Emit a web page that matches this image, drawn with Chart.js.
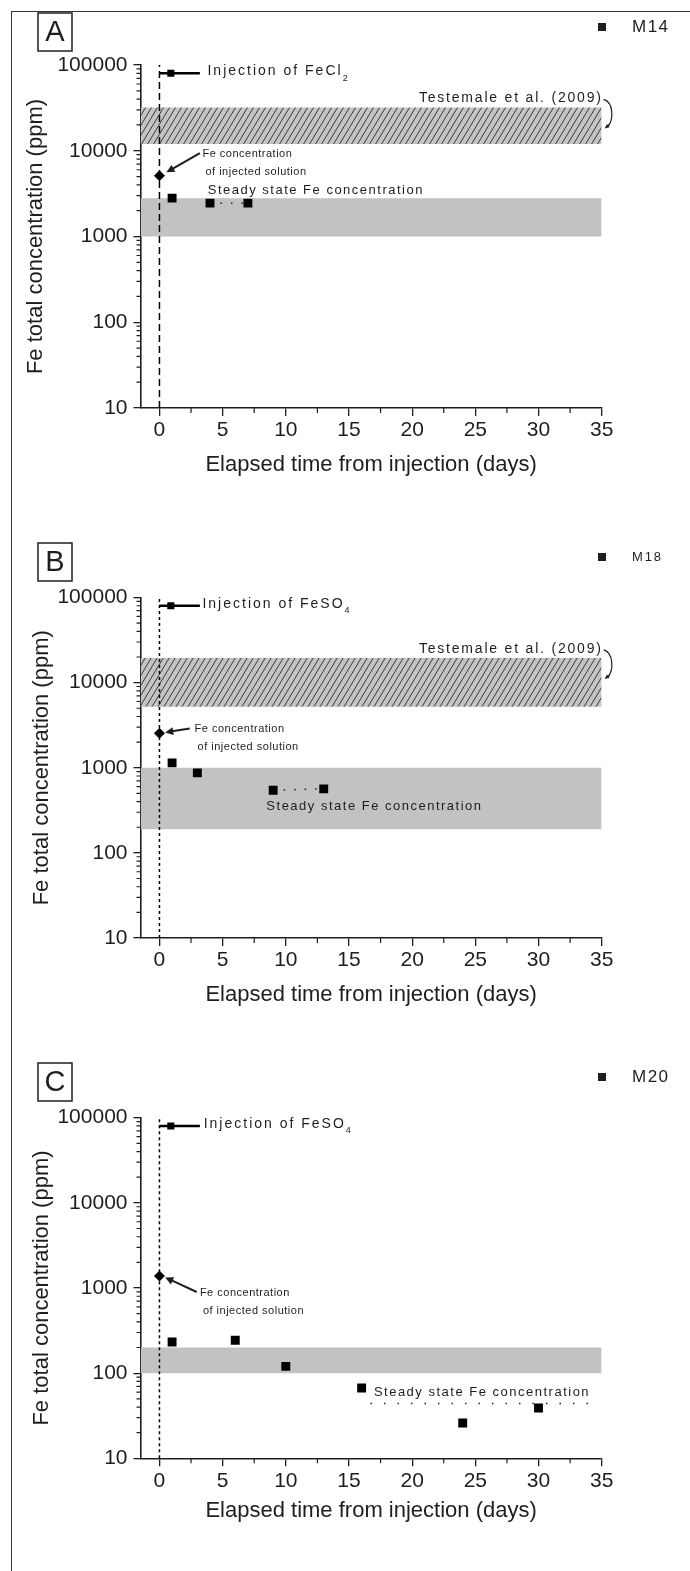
<!DOCTYPE html>
<html>
<head>
<meta charset="utf-8">
<script src="https://cdn.jsdelivr.net/npm/chart.js@4"></script>
<style>
  body { margin: 0; background: #fff; width: 690px; height: 1571px; position: relative; overflow: hidden; }
  .frame { position: absolute; left: 11px; top: 11px; width: 720px; height: 1620px;
           border-left: 1.5px solid #333; border-top: 1.5px solid #333; }
  canvas { position: absolute; left: 0; }
</style>
</head>
<body>
<div class="frame"></div>
<canvas id="chartA" width="690" height="530" style="top:0"></canvas>
<canvas id="chartB" width="690" height="520" style="top:530px"></canvas>
<canvas id="chartC" width="690" height="521" style="top:1050px"></canvas>
<script>
const FONT = "'Liberation Sans', Arial, Helvetica, sans-serif";
const INK = '#1e1e1e';

// axes
const xTicks = [0, 5, 10, 15, 20, 25, 30, 35];
const xMinorTicks = [2.5, 7.5, 12.5, 17.5, 22.5, 27.5, 32.5];
const yTicks = [10, 100, 1000, 10000, 100000];
const xRange = [-1.5, 35];
const yRange = [10, 100000];

// injection marker (ppm level, arrow from day 0 to text)
const injectionLevel = 80000;
const injectionArrowDays = [0, 3.2];
const injectionMarkDay = 0.9;

// A - M14, FeCl2
const daysM14 = [1, 4, 7];
const feM14 = [2800, 2450, 2450];
const injectedM14 = 5100;
const steadyM14 = [1000, 2800];
const testemaleM14 = [12000, 32000];

// B - M18, FeSO4
const daysM18 = [1, 3, 9, 13];
const feM18 = [1140, 870, 545, 565];
const injectedM18 = 2550;
const steadyM18 = [190, 1000];
const testemaleM18 = [5200, 19500];

// C - M20, FeSO4
const daysM20 = [1, 6, 10, 16, 24, 30];
const feM20 = [232, 243, 120, 67, 26, 39];
const injectedM20 = 1380;
const steadyM20 = [100, 200];
const steadyLineM20 = 44;
const steadyLineDaysM20 = [16.7, 34.2];

const panels = [
  {
    id: 'chartA', letter: 'A', label: 'M14', salt: 'FeCl', sub: '2',
    days: daysM14, fe: feM14, injected: injectedM14, steady: steadyM14, testemale: testemaleM14,
    connect: [1, 2], zeroDash: [7, 4],
    pad: { top: 65, bottom: 52, left: 23 }, xAxisH: 70,
    injText: 3.8, feText: [3.4, 9150], feArrow: [[3.2, 9400], [0.55, 5600]],
    steadyText: [3.82, 3440], legendSize: 17,
  },
  {
    id: 'chartB', letter: 'B', label: 'M18', salt: 'FeSO', sub: '4',
    days: daysM18, fe: feM18, injected: injectedM18, steady: steadyM18, testemale: testemaleM18,
    connect: [2, 3], zeroDash: [3, 3],
    pad: { top: 67.5, bottom: 42, left: 29 }, xAxisH: 70,
    injText: 3.4, feText: [2.78, 2820], feArrow: [[2.4, 2890], [0.45, 2600]],
    steadyText: [8.46, 348], legendSize: 13,
  },
  {
    id: 'chartC', letter: 'C', label: 'M20', salt: 'FeSO', sub: '4',
    days: daysM20, fe: feM20, injected: injectedM20, steady: steadyM20, testemale: null,
    steadyLine: steadyLineM20, zeroDash: [3, 3],
    pad: { top: 67.7, bottom: 46.7, left: 29 }, xAxisH: 66,
    injText: 3.5, feText: [3.2, 884], feArrow: [[2.95, 897], [0.45, 1330]],
    steadyText: [16.97, 60], legendSize: 17,
  },
];

const makeHatch = () => {
  const c = document.createElement('canvas');
  c.width = 6; c.height = 10;
  const g = c.getContext('2d');
  g.fillStyle = '#c4c4c4';
  g.fillRect(0, 0, 6, 10);
  g.strokeStyle = '#3a3a3a';
  g.lineWidth = 1;
  for (const off of [-6, 0, 6]) {
    g.beginPath();
    g.moveTo(off, 10);
    g.lineTo(off + 6, 0);
    g.stroke();
  }
  return g.createPattern(c, 'repeat');
};

const band = (lo, hi, fill) => [
  { type: 'line', data: xRange.map(x => ({ x, y: hi })), fill: '+1', backgroundColor: fill,
    borderColor: 'rgba(0,0,0,0)', borderWidth: 0, pointRadius: 0, order: 5 },
  { type: 'line', data: xRange.map(x => ({ x, y: lo })), fill: false,
    borderColor: 'rgba(0,0,0,0)', borderWidth: 0, pointRadius: 0, order: 5 },
];

const text = (ctx, str, px, py, size, spacing, align = 'left') => {
  ctx.font = `${size}px ${FONT}`;
  ctx.letterSpacing = spacing + 'px';
  ctx.textAlign = align;
  ctx.textBaseline = 'middle';
  ctx.fillText(str, px, py);
  return ctx.measureText(str).width;
};

const arrow = (ctx, x1, y1, x2, y2, head) => {
  const a = Math.atan2(y2 - y1, x2 - x1);
  ctx.beginPath();
  ctx.moveTo(x1, y1);
  ctx.lineTo(x2 - Math.cos(a) * head * 0.6, y2 - Math.sin(a) * head * 0.6);
  ctx.stroke();
  ctx.beginPath();
  ctx.moveTo(x2, y2);
  ctx.lineTo(x2 - head * Math.cos(a - 0.45), y2 - head * Math.sin(a - 0.45));
  ctx.lineTo(x2 - head * Math.cos(a + 0.45), y2 - head * Math.sin(a + 0.45));
  ctx.closePath();
  ctx.fill();
};

const annotate = {
  id: 'annotate',
  afterDraw(chart, args, p) {
    const { ctx, chartArea: area, scales: { x, y } } = chart;
    ctx.save();
    ctx.strokeStyle = INK;
    ctx.fillStyle = INK;

    // minor ticks
    ctx.lineWidth = 1.2;
    ctx.beginPath();
    xMinorTicks.forEach(v => {
      const px = x.getPixelForValue(v);
      ctx.moveTo(px, area.bottom);
      ctx.lineTo(px, area.bottom + 5);
    });
    for (let d = 10; d < 100000; d *= 10) {
      for (let k = 2; k < 10; k++) {
        const py = y.getPixelForValue(d * k);
        ctx.moveTo(area.left, py);
        ctx.lineTo(area.left - 4, py);
      }
    }
    ctx.stroke();

    // panel letter
    ctx.lineWidth = 1.5;
    ctx.strokeRect(38, 13, 34, 38);
    text(ctx, p.letter, 55, 33, 29, 0, 'center');

    // legend
    const ds = chart.data.datasets[0];
    ctx.fillRect(598, 23, 8, 8);
    text(ctx, ds.label, 632, 27.5, p.legendSize, p.legendSize > 15 ? 1.5 : 1.8);

    // injection label
    const iy = y.getPixelForValue(injectionLevel) - 2;
    const w = text(ctx, 'Injection of ' + p.salt, x.getPixelForValue(p.injText), iy, 14, 2);
    text(ctx, p.sub, x.getPixelForValue(p.injText) + w, iy + 7, 9, 0);

    // Testemale band label + brace
    if (p.testemale) {
      const right = x.getPixelForValue(xRange[1]);
      const top = y.getPixelForValue(p.testemale[1]);
      text(ctx, 'Testemale et al. (2009)', right + 1, top - 9, 14, 1.8, 'right');
      ctx.lineWidth = 1.2;
      ctx.beginPath();
      ctx.moveTo(right + 2, top - 8);
      ctx.quadraticCurveTo(right + 9, top - 6, right + 10, top + 4);
      ctx.quadraticCurveTo(right + 11, top + 14, right + 6, top + 19);
      ctx.stroke();
      arrow(ctx, right + 8, top + 17, right + 3, top + 21, 5);
    }

    // injected solution label + arrow
    const fx = x.getPixelForValue(p.feText[0]);
    const fy = y.getPixelForValue(p.feText[1]);
    text(ctx, 'Fe concentration', fx, fy, 11, 0.5);
    text(ctx, 'of injected solution', fx + 3, fy + 18, 11, 0.5);
    ctx.lineWidth = 2;
    arrow(ctx,
      x.getPixelForValue(p.feArrow[0][0]), y.getPixelForValue(p.feArrow[0][1]),
      x.getPixelForValue(p.feArrow[1][0]), y.getPixelForValue(p.feArrow[1][1]), 9);

    // steady state label
    text(ctx, 'Steady state Fe concentration',
      x.getPixelForValue(p.steadyText[0]), y.getPixelForValue(p.steadyText[1]), 13, 1.5);

    ctx.restore();
  },
};

const hatch = makeHatch();

panels.forEach(p => {
  const datasets = [
    {
      type: 'scatter', label: p.label,
      data: p.days.map((d, i) => ({ x: d, y: p.fe[i] })),
      pointStyle: 'rect', pointRadius: 6.3, backgroundColor: '#000', borderColor: '#000', borderWidth: 0, order: 0,
    },
    {
      type: 'scatter', data: [{ x: 0, y: p.injected }],
      pointStyle: 'rectRot', pointRadius: 5.5, backgroundColor: '#000', borderColor: '#000', borderWidth: 0, order: 0,
    },
    {
      type: 'scatter', data: [{ x: injectionMarkDay, y: injectionLevel }],
      pointStyle: 'rect', pointRadius: 5, backgroundColor: '#000', borderWidth: 0, order: 0,
    },
    {
      type: 'line', data: injectionArrowDays.map(d => ({ x: d, y: injectionLevel })),
      borderColor: '#000', borderWidth: 2.5, pointRadius: 0, fill: false, order: 1,
    },
    {
      type: 'line', data: yRange.map(v => ({ x: 0, y: v })),
      borderColor: '#000', borderWidth: 1.5, borderDash: p.zeroDash, pointRadius: 0, fill: false, order: 2,
    },
  ];
  if (p.connect) {
    datasets.push({
      type: 'line', data: p.connect.map(i => ({ x: p.days[i], y: p.fe[i] })),
      borderColor: '#222', borderWidth: 1.5, borderDash: [1.5, 9], pointRadius: 0, fill: false, order: 2,
    });
  }
  if (p.steadyLine) {
    datasets.push({
      type: 'line', data: steadyLineDaysM20.map(d => ({ x: d, y: p.steadyLine })),
      borderColor: '#222', borderWidth: 1.5, borderDash: [1.5, 12], pointRadius: 0, fill: false, order: 2,
    });
  }
  datasets.push(...band(p.steady[0], p.steady[1], '#c2c2c2'));
  if (p.testemale) datasets.push(...band(p.testemale[0], p.testemale[1], hatch));

  new Chart(document.getElementById(p.id), {
    data: { datasets },
    plugins: [annotate],
    options: {
      responsive: false,
      animation: false,
      events: [],
      layout: { padding: { top: p.pad.top, bottom: p.pad.bottom, left: p.pad.left, right: 88.3 } },
      plugins: {
        legend: { display: false },
        tooltip: { enabled: false },
        annotate: p,
      },
      scales: {
        x: {
          type: 'linear', min: xRange[0], max: xRange[1],
          afterBuildTicks: s => { s.ticks = xTicks.map(v => ({ value: v })); },
          afterFit: s => { s.height = p.xAxisH; },
          border: { display: true, color: INK, width: 1.6 },
          grid: { display: true, drawOnChartArea: false, drawTicks: true, tickLength: 8, color: INK, lineWidth: 1.3 },
          ticks: { color: INK, font: { family: FONT, size: 21 }, padding: 2, maxRotation: 0, autoSkip: false },
          title: { display: true, text: 'Elapsed time from injection (days)', color: INK,
                   font: { family: FONT, size: 22 }, padding: 0 },
        },
        y: {
          type: 'logarithmic', min: yRange[0], max: yRange[1],
          afterBuildTicks: s => { s.ticks = yTicks.map(v => ({ value: v })); },
          afterFit: s => { s.width = 140.5 - p.pad.left; },
          border: { display: true, color: INK, width: 1.6 },
          grid: { display: true, drawOnChartArea: false, drawTicks: true, tickLength: 7, color: INK, lineWidth: 1.3 },
          ticks: { color: INK, font: { family: FONT, size: 21 }, padding: 6, autoSkip: false,
                   callback: v => String(v) },
          title: { display: true, text: 'Fe total concentration (ppm)', color: INK,
                   font: { family: FONT, size: 22 }, padding: 0 },
        },
      },
    },
  });
});
</script>
</body>
</html>
